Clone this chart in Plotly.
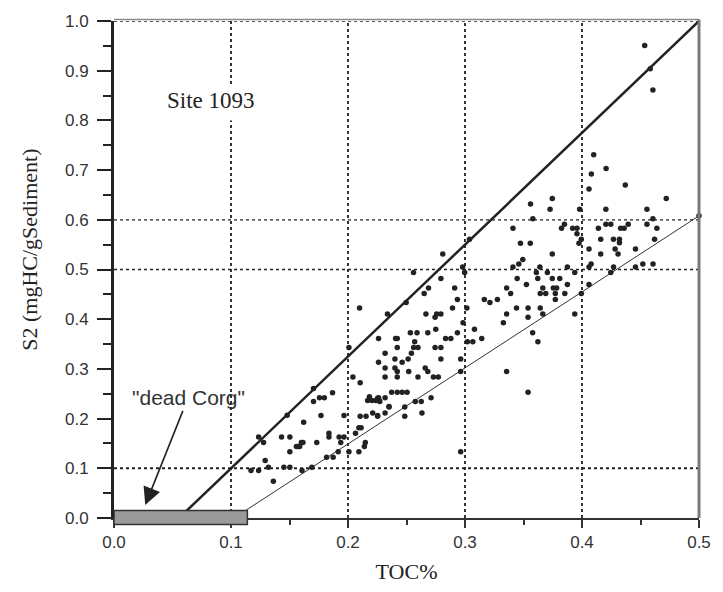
import plotly.graph_objects as go

# ---- data (TOC %, S2 mgHC/gSediment) ----
toc = [
    0.410, 0.4206, 0.408, 0.437, 0.406, 0.472, 0.3746, 0.356, 0.3727, 0.398, 0.4204, 0.4555, 0.500,
    0.358, 0.4606, 0.341, 0.385, 0.3825, 0.392, 0.3957, 0.3957, 0.3994, 0.3974, 0.414, 0.4204, 0.4246,
    0.433, 0.436, 0.4395, 0.4555, 0.464, 0.416, 0.4269, 0.432, 0.432, 0.4283, 0.4457, 0.462, 0.406,
    0.416, 0.4308, 0.3746, 0.3474, 0.3558, 0.3039, 0.281, 0.3494, 0.346, 0.341, 0.364, 0.3875, 0.4078,
    0.406, 0.427, 0.4457, 0.452, 0.4607, 0.4246, 0.298, 0.2997, 0.256, 0.361, 0.3704, 0.3938, 0.2794,
    0.3446, 0.3622, 0.3746, 0.381, 0.3525, 0.3875, 0.406, 0.2688, 0.2912, 0.3356, 0.3665, 0.3755, 0.3783,
    0.2651, 0.339, 0.3643, 0.369, 0.3772, 0.3853, 0.3994, 0.2497, 0.2935, 0.3165, 0.3213, 0.3277, 0.3772,
    0.2337, 0.2666, 0.2758, 0.2794, 0.2744, 0.2893, 0.3016, 0.344, 0.3539, 0.3643, 0.3356, 0.3665, 0.3938,
    0.3539, 0.2983, 0.275, 0.3081, 0.3328, 0.2533, 0.259, 0.2682, 0.2935, 0.3578, 0.2261, 0.2407, 0.2421,
    0.2834, 0.2879, 0.3143, 0.257, 0.302, 0.3067, 0.3623, 0.2421, 0.2561, 0.2598, 0.2744, 0.2794, 0.2542,
    0.2317, 0.2401, 0.2514, 0.2794, 0.2963, 0.2463, 0.2261, 0.2317, 0.2401, 0.2421, 0.266, 0.2682, 0.2519,
    0.2963, 0.3356, 0.2317, 0.2421, 0.2598, 0.273, 0.2772, 0.2373, 0.2421, 0.2463, 0.2505, 0.3539, 0.2261,
    0.2317, 0.271,
    0.4536, 0.4583, 0.4606,
    0.2963, 0.2253, 0.2272, 0.2351, 0.2253, 0.2317, 0.2485, 0.2485, 0.2575, 0.2626, 0.2632,
    0.2099, 0.2008, 0.2042, 0.2104, 0.1705, 0.1756, 0.1798, 0.1705, 0.1868, 0.2168, 0.2205, 0.2239,
    0.2267, 0.2183, 0.235, 0.2211, 0.2253, 0.148, 0.1769, 0.1966, 0.2104, 0.2154, 0.1621, 0.2093, 0.2112,
    0.2064, 0.1236, 0.1278, 0.1432, 0.1503, 0.1837, 0.1837, 0.1924, 0.1966, 0.1938, 0.1733, 0.1601, 0.1615,
    0.1559, 0.1573, 0.1587, 0.1503, 0.2148, 0.214, 0.2008, 0.2093, 0.1916, 0.1817, 0.1873, 0.1292, 0.132,
    0.1452, 0.1503, 0.1691, 0.1607, 0.1171, 0.1236, 0.1362,
]
s2 = [
    0.731, 0.703, 0.692, 0.670, 0.662, 0.643, 0.643, 0.632, 0.621, 0.621, 0.621, 0.621, 0.608,
    0.602, 0.602, 0.583, 0.591, 0.583, 0.583, 0.583, 0.572, 0.561, 0.553, 0.583, 0.591, 0.591,
    0.583, 0.583, 0.591, 0.591, 0.583, 0.561, 0.561, 0.561, 0.554, 0.541, 0.541, 0.561, 0.541,
    0.531, 0.531, 0.531, 0.553, 0.553, 0.561, 0.531, 0.520, 0.511, 0.505, 0.505, 0.505, 0.511,
    0.505, 0.505, 0.505, 0.511, 0.511, 0.494, 0.505, 0.494, 0.494, 0.494, 0.494, 0.494, 0.482,
    0.482, 0.482, 0.482, 0.482, 0.470, 0.470, 0.470, 0.463, 0.463, 0.463, 0.463, 0.463, 0.463,
    0.4515, 0.4515, 0.4515, 0.4515, 0.4515, 0.4515, 0.4515, 0.4337, 0.4396, 0.4396, 0.4337, 0.4396, 0.4396,
    0.4105, 0.4105, 0.4105, 0.4105, 0.404, 0.4224, 0.4224, 0.4224, 0.4224, 0.4224, 0.4105, 0.4105, 0.4105,
    0.404, 0.3927, 0.3796, 0.3796, 0.3927, 0.3729, 0.3729, 0.3729, 0.3729, 0.3729, 0.361, 0.361, 0.361,
    0.361, 0.361, 0.361, 0.3545, 0.3545, 0.3545, 0.3545, 0.3432, 0.3432, 0.3432, 0.3432, 0.3432, 0.3313,
    0.3313, 0.3201, 0.3201, 0.3201, 0.3201, 0.3135, 0.3135, 0.3016, 0.3016, 0.295, 0.3016, 0.295, 0.295,
    0.295, 0.295, 0.2838, 0.2838, 0.2838, 0.2838, 0.2838, 0.2528, 0.2528, 0.2528, 0.2528, 0.2528, 0.2422,
    0.2422, 0.2422,
    0.9505, 0.904, 0.861,
    0.1333, 0.2409, 0.2343, 0.2231, 0.206, 0.2112, 0.2231, 0.2046, 0.2343, 0.2343, 0.2112,
    0.4224, 0.3432, 0.2838, 0.2719, 0.2608, 0.2422, 0.2422, 0.2343, 0.2521, 0.2363, 0.2363, 0.2363,
    0.2363, 0.2442, 0.2244, 0.2112, 0.2046, 0.2066, 0.206, 0.206, 0.2046, 0.2046, 0.1927, 0.1815, 0.1815,
    0.1703, 0.163, 0.1518, 0.163, 0.163, 0.1703, 0.163, 0.163, 0.163, 0.1518, 0.1518, 0.1518, 0.1518,
    0.144, 0.144, 0.144, 0.1333, 0.1518, 0.144, 0.1333, 0.1333, 0.1333, 0.1221, 0.1221, 0.1155, 0.1023,
    0.1023, 0.1023, 0.1023, 0.0957, 0.0957, 0.0957, 0.0739,
]

# bounding lines (TOC, S2 end points)
upper_x = [0.0556, 0.5]
upper_y = [0.0, 1.0]
lower_x = [0.1026, 0.5]
lower_y = [0.0, 0.608]

# "dead Corg" range on the TOC axis
dead_corg = [0.0, 0.114]

x_ticks = [0.0, 0.1, 0.2, 0.3, 0.4, 0.5]
x_labels = ["0.0", "0.1", "0.2", "0.3", "0.4", "0.5"]
y_ticks = [round(0.1 * i, 1) for i in range(11)]
y_labels = ["%.1f" % v for v in y_ticks]

vgrid = [0.1, 0.2, 0.3, 0.4]
hgrid = [0.1, 0.5, 0.6, 1.0]

INK = "#222222"
SANS = "Liberation Sans, Arial, Helvetica, sans-serif"
SERIF = "Liberation Serif, Times New Roman, serif"

fig = go.Figure()

fig.add_trace(go.Scatter(x=upper_x, y=upper_y, mode="lines",
                         line=dict(color=INK, width=2.5), hoverinfo="skip"))
fig.add_trace(go.Scatter(x=lower_x, y=lower_y, mode="lines",
                         line=dict(color="#333333", width=1), hoverinfo="skip"))
fig.add_trace(go.Scatter(x=toc, y=s2, mode="markers",
                         marker=dict(color=INK, size=5.5, symbol="circle"),
                         cliponaxis=False))

shapes = []
for gx in vgrid:
    if gx == 0.1:
        segs = [(0.0, 0.80), (0.873, 1.0)]
    else:
        segs = [(0.0, 1.0)]
    for y0, y1 in segs:
        shapes.append(dict(type="line", xref="x", yref="y", x0=gx, x1=gx, y0=y0, y1=y1,
                           line=dict(color="#333333", width=2, dash="dot"), layer="below"))
for gy in hgrid:
    w = 2 if gy == 0.1 else 1.3
    shapes.append(dict(type="line", xref="x", yref="y", x0=0, x1=0.5, y0=gy, y1=gy,
                       line=dict(color="#222222", width=w, dash="dot"), layer="below"))
# frame top / right (grey)
shapes.append(dict(type="line", xref="paper", yref="paper", x0=0, x1=1, y0=1.003, y1=1.003,
                   line=dict(color="#8a8a8a", width=1.5)))
shapes.append(dict(type="line", xref="paper", yref="paper", x0=1, x1=1, y0=0, y1=1.003,
                   line=dict(color="#7a7a7a", width=3)))
# dead Corg box
shapes.append(dict(type="rect", xref="x", yref="paper", x0=dead_corg[0], x1=dead_corg[1],
                   y0=-0.013, y1=0.015, fillcolor="#9a9a9a",
                   line=dict(color="#333333", width=1.5), layer="above"))

fig.update_layout(
    width=723, height=592,
    margin=dict(l=114, r=15, t=14, b=72),
    paper_bgcolor="white", plot_bgcolor="white",
    showlegend=False,
    shapes=shapes,
    xaxis=dict(range=[0, 0.5], tickmode="array", tickvals=x_ticks, ticktext=x_labels,
               showgrid=False, zeroline=False,
               showline=True, linecolor="#333333", linewidth=2,
               ticks="outside", ticklen=8, tickwidth=2, tickcolor="#333333",
               minor=dict(ticks="outside", ticklen=5, tickwidth=2, tickcolor="#333333",
                          dtick=0.05, showgrid=False),
               tickfont=dict(family=SANS, size=17, color="#333333"),
               title=dict(text="TOC%", standoff=12,
                          font=dict(family=SERIF, size=22, color="#222222"))),
    yaxis=dict(range=[0, 1.0], tickmode="array", tickvals=y_ticks, ticktext=y_labels,
               showgrid=False, zeroline=False,
               showline=True, linecolor="#222222", linewidth=3,
               ticks="outside", ticklen=14, tickwidth=2, tickcolor="#222222",
               minor=dict(ticks="outside", ticklen=8, tickwidth=2, tickcolor="#222222",
                          dtick=0.05, showgrid=False),
               tickfont=dict(family=SANS, size=17, color="#333333"),
               ticklabelstandoff=5),
    annotations=[
        dict(text="S2 (mgHC/gSediment)", xref="paper", yref="paper", x=-0.145, y=0.54,
             textangle=-90, showarrow=False, xanchor="center", yanchor="middle",
             font=dict(family=SERIF, size=22, color="#222222")),
        dict(text="Site 1093", xref="x", yref="y", x=0.044, y=0.84, xanchor="left",
             yanchor="middle", showarrow=False,
             font=dict(family=SERIF, size=23, color="#222222")),
        dict(text="\"dead Corg\"", xref="x", yref="y", x=0.0267, y=0.026,
             axref="x", ayref="y", ax=0.0633, ay=0.2416, showarrow=True,
             arrowhead=2, arrowsize=2.2, arrowwidth=1.6, arrowcolor="#222222",
             font=dict(family=SANS, size=21, color="#333333")),
    ],
)

fig.write_html("out.html")
